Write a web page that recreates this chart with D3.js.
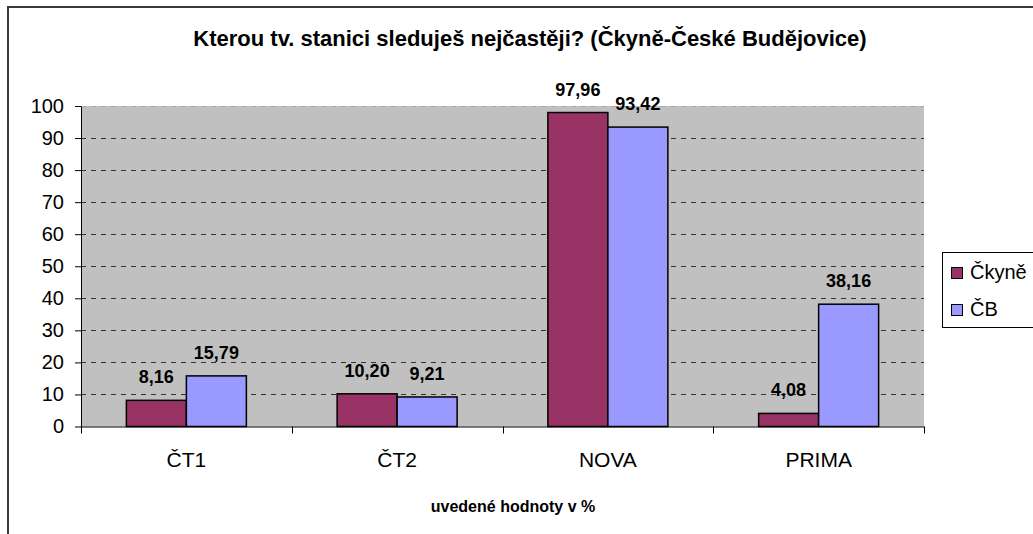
<!DOCTYPE html>
<html>
<head>
<meta charset="utf-8">
<script src="https://d3js.org/d3.v7.min.js"></script>
<style>
  body { margin: 0; background: #fff; }
  svg { display: block; font-family: "Liberation Sans", Arial, sans-serif; }
</style>
</head>
<body>
<svg id="chart" width="1033" height="534"></svg>
<script>
// data
const categories = ["ČT1", "ČT2", "NOVA", "PRIMA"];
const seriesNames = ["Čkyně", "ČB"];
const ckyne = [8.16, 10.20, 97.96, 4.08];
const cb = [15.79, 9.21, 93.42, 38.16];
const yTicks = [0, 10, 20, 30, 40, 50, 60, 70, 80, 90, 100];
const colors = ["#993366", "#9999FF"];

const FONT = "Liberation Sans, Arial, sans-serif";
const svg = d3.select("#chart");

// outer frame (left + top only visible)
svg.append("line").attr("x1", 8).attr("x2", 8).attr("y1", 6).attr("y2", 534)
  .attr("stroke", "#3a3a3a").attr("stroke-width", 2);
svg.append("line").attr("x1", 7).attr("x2", 1033).attr("y1", 7).attr("y2", 7)
  .attr("stroke", "#3a3a3a").attr("stroke-width", 2);

// title
svg.append("text")
  .attr("x", 530).attr("y", 46)
  .attr("text-anchor", "middle")
  .attr("font-size", 22).attr("font-weight", "bold")
  .text("Kterou tv. stanici sleduješ nejčastěji? (Čkyně-České Budějovice)");

const m = { left: 81, right: 924, top: 106, bottom: 426.5 };

const x = d3.scaleBand().domain(categories).range([m.left, m.right]);
const x1 = d3.scaleBand().domain(seriesNames).range([0, 120]);
const y = d3.scaleLinear().domain([0, 100]).range([m.bottom, m.top]);

// plot background
svg.append("rect")
  .attr("x", m.left).attr("y", m.top)
  .attr("width", m.right - m.left).attr("height", m.bottom - m.top)
  .attr("fill", "#C0C0C0");

// gridlines
svg.append("g").selectAll("line")
  .data(yTicks.filter(d => d > 0))
  .join("line")
  .attr("x1", m.left).attr("x2", m.right)
  .attr("y1", d => Math.round(y(d)) + 0.5).attr("y2", d => Math.round(y(d)) + 0.5)
  .attr("stroke", d => d === 100 ? "#a8a8a8" : "#333")
  .attr("stroke-width", 1)
  .attr("stroke-dasharray", "5,5");

// bars
const data = categories.map((c, i) => ({ cat: c, vals: [ckyne[i], cb[i]] }));
const groups = svg.append("g").selectAll("g")
  .data(data).join("g")
  .attr("transform", d => `translate(${x(d.cat) + (x.bandwidth() - 120) / 2},0)`);

groups.selectAll("rect")
  .data(d => d.vals.map((v, j) => ({ name: seriesNames[j], v, j })))
  .join("rect")
  .attr("x", d => x1(d.name))
  .attr("y", d => y(d.v))
  .attr("width", x1.bandwidth())
  .attr("height", d => y(0) - y(d.v))
  .attr("fill", d => colors[d.j])
  .attr("stroke", "#000")
  .attr("stroke-width", 1.5);

groups.selectAll("text")
  .data(d => d.vals.map((v, j) => ({ name: seriesNames[j], v, j })))
  .join("text")
  .attr("x", d => x1(d.name) + x1.bandwidth() / 2)
  .attr("y", d => y(d.v) - 17)
  .attr("text-anchor", "middle")
  .attr("font-size", 18).attr("font-weight", "bold")
  .text(d => d.v.toFixed(2).replace(".", ","));

// y axis
const yAxis = svg.append("g")
  .attr("transform", `translate(${m.left},0)`)
  .call(d3.axisLeft(y).tickValues(yTicks).tickSize(6).tickPadding(11).tickSizeOuter(0));
yAxis.select(".domain").attr("stroke", "#000");
yAxis.selectAll("text").attr("font-size", 20).attr("font-family", FONT).attr("fill", "#000");

// x axis
const xAxis = svg.append("g")
  .attr("transform", `translate(0,${m.bottom})`)
  .call(d3.axisBottom(x).tickSize(0).tickPadding(26).tickSizeOuter(0));
xAxis.select(".domain").attr("stroke", "#000");
xAxis.selectAll("text").attr("font-size", 21).attr("font-family", FONT).attr("fill", "#000");
// category separator ticks
svg.append("g").selectAll("line")
  .data(categories.map(c => x(c)).concat([m.right]))
  .join("line")
  .attr("x1", d => Math.round(d) + 0.5).attr("x2", d => Math.round(d) + 0.5)
  .attr("y1", m.bottom).attr("y2", m.bottom + 7)
  .attr("stroke", "#000");

// bottom note
svg.append("text")
  .attr("x", 513).attr("y", 512)
  .attr("text-anchor", "middle")
  .attr("font-size", 16).attr("font-weight", "bold")
  .text("uvedené hodnoty v %");

// legend
const lg = svg.append("g");
lg.append("rect").attr("x", 942.5).attr("y", 252.5).attr("width", 100).attr("height", 75)
  .attr("fill", "#fff").attr("stroke", "#000");
seriesNames.forEach((n, i) => {
  const yy = 267 + i * 37;
  lg.append("rect").attr("x", 951.5).attr("y", yy + 0.5).attr("width", 11).attr("height", 11)
    .attr("fill", colors[i]).attr("stroke", "#000");
  lg.append("text").attr("x", 970).attr("y", yy + 12)
    .attr("font-size", 20).text(n);
});
</script>
</body>
</html>
